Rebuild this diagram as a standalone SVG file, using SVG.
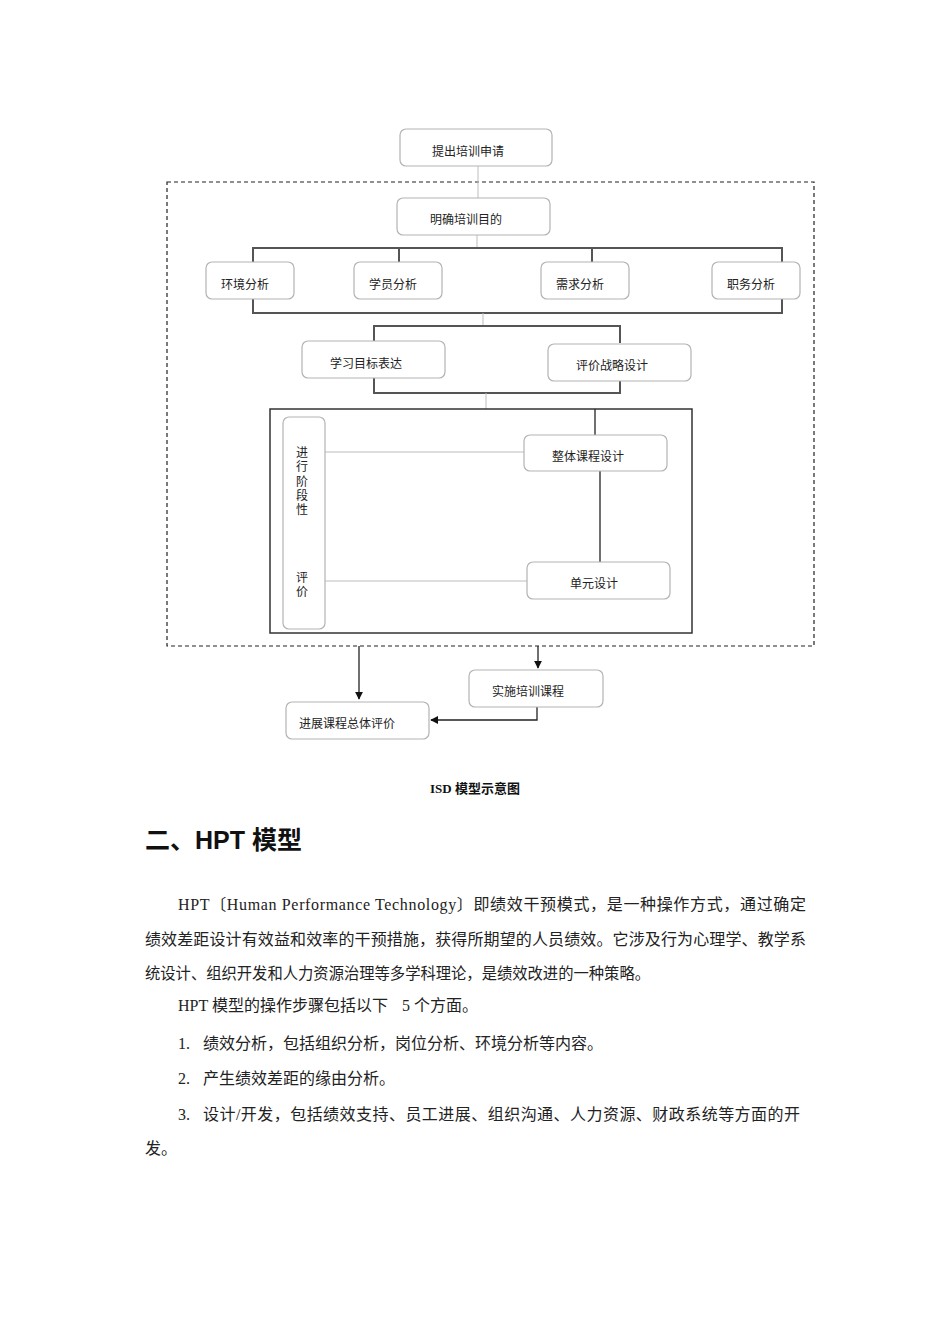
<svg xmlns="http://www.w3.org/2000/svg" width="950" height="1344" viewBox="0 0 950 1344">
<defs>
<marker id="arr" viewBox="0 0 10 10" refX="9" refY="5" markerWidth="8" markerHeight="8" markerUnits="userSpaceOnUse" orient="auto"><path d="M0,0 L10,5 L0,10 z" fill="#111"/></marker>
<style>
.box{fill:#fff;stroke:#b3b3b3;stroke-width:1.2}
.lbl{font-family:"Liberation Sans","Noto Sans CJK SC",sans-serif;font-size:12px;fill:#222}
.bar{stroke:#555;stroke-width:2;fill:none}
.thin{stroke:#bdbdbd;stroke-width:1;fill:none}
.blk{stroke:#222;stroke-width:1.3;fill:none}
.body{font-family:"Liberation Serif","Noto Sans CJK SC",serif;font-size:16px;fill:#222}
</style>
</defs>
<rect width="950" height="1344" fill="#fff"/>
<g id="connectors">
<rect x="167" y="182" width="647" height="464" fill="none" stroke="#222" stroke-width="1.2" stroke-dasharray="4,3"/>
<line class="thin" x1="478" y1="166" x2="478" y2="198"/>
<line class="thin" x1="477" y1="235" x2="477" y2="248"/>
<path class="bar" d="M253,262 V248 H782 V262 M399,248 V262 M592,248 V262"/>
<path class="bar" d="M253,299 V313 H782 V299"/>
<line class="thin" x1="483" y1="313" x2="483" y2="326"/>
<path class="bar" d="M374,341 V326 H620 V343"/>
<path class="bar" d="M374,378 V393 H620 V381"/>
<line class="thin" x1="486" y1="393" x2="486" y2="409"/>
<rect x="270" y="409" width="422" height="224" fill="none" stroke="#333" stroke-width="1.5"/>
<line class="blk" x1="595" y1="409" x2="595" y2="435"/>
<line class="blk" x1="600" y1="471" x2="600" y2="562"/>
<line class="thin" x1="325" y1="452" x2="524" y2="452"/>
<line class="thin" x1="325" y1="581" x2="527" y2="581"/>
<line class="blk" x1="359" y1="646" x2="359" y2="699" marker-end="url(#arr)"/>
<line class="blk" x1="538" y1="646" x2="538" y2="668" marker-end="url(#arr)"/>
<path class="blk" d="M537,707 V720 H431" marker-end="url(#arr)"/>
</g>
<g id="n1"><rect class="box" x="400" y="129" width="152" height="37" rx="6"/><text class="lbl" x="468" y="156" text-anchor="middle">提出培训申请</text></g>
<g id="n2"><rect class="box" x="397" y="198" width="153" height="37" rx="6"/><text class="lbl" x="466" y="224" text-anchor="middle">明确培训目的</text></g>
<g id="n3"><rect class="box" x="206" y="262" width="88" height="37" rx="6"/><text class="lbl" x="245" y="289" text-anchor="middle">环境分析</text></g>
<g id="n4"><rect class="box" x="354" y="262" width="88" height="37" rx="6"/><text class="lbl" x="393" y="289" text-anchor="middle">学员分析</text></g>
<g id="n5"><rect class="box" x="541" y="262" width="88" height="37" rx="6"/><text class="lbl" x="580" y="289" text-anchor="middle">需求分析</text></g>
<g id="n6"><rect class="box" x="712" y="262" width="88" height="37" rx="6"/><text class="lbl" x="751" y="289" text-anchor="middle">职务分析</text></g>
<g id="n7"><rect class="box" x="302" y="341" width="143" height="37" rx="6"/><text class="lbl" x="366" y="368" text-anchor="middle">学习目标表达</text></g>
<g id="n8"><rect class="box" x="548" y="344" width="143" height="37" rx="6"/><text class="lbl" x="612" y="370" text-anchor="middle">评价战略设计</text></g>
<g id="n9"><rect class="box" x="283" y="417" width="42" height="212" rx="6"/>
<text class="lbl" x="302" y="457" text-anchor="middle">进</text>
<text class="lbl" x="302" y="471" text-anchor="middle">行</text>
<text class="lbl" x="302" y="486" text-anchor="middle">阶</text>
<text class="lbl" x="302" y="500" text-anchor="middle">段</text>
<text class="lbl" x="302" y="514" text-anchor="middle">性</text>
<text class="lbl" x="302" y="582" text-anchor="middle">评</text>
<text class="lbl" x="302" y="596" text-anchor="middle">价</text></g>
<g id="n10"><rect class="box" x="524" y="435" width="143" height="36" rx="6"/><text class="lbl" x="588" y="461" text-anchor="middle">整体课程设计</text></g>
<g id="n11"><rect class="box" x="527" y="562" width="143" height="37" rx="6"/><text class="lbl" x="594" y="588" text-anchor="middle">单元设计</text></g>
<g id="n12"><rect class="box" x="469" y="670" width="134" height="37" rx="6"/><text class="lbl" x="528" y="696" text-anchor="middle">实施培训课程</text></g>
<g id="n13"><rect class="box" x="286" y="702" width="143" height="37" rx="6"/><text class="lbl" x="347" y="728" text-anchor="middle">进展课程总体评价</text></g>
<text x="475" y="793" text-anchor="middle" font-family="Liberation Serif,'Noto Sans CJK SC',serif" font-weight="bold" font-size="13" fill="#111">ISD 模型示意图</text>
<text x="145" y="849" font-family="Liberation Sans,'Noto Sans CJK SC',sans-serif" font-weight="bold" font-size="25" fill="#111">二、HPT 模型</text>
<text class="body" x="178" y="910" textLength="628" lengthAdjust="spacing">HPT〔Human Performance Technology〕即绩效干预模式，是一种操作方式，通过确定</text>
<text class="body" x="145" y="945" textLength="661" lengthAdjust="spacing">绩效差距设计有效益和效率的干预措施，获得所期望的人员绩效。它涉及行为心理学、教学系</text>
<text class="body" x="145" y="979" textLength="505" lengthAdjust="spacingAndGlyphs">统设计、组织开发和人力资源治理等多学科理论，是绩效改进的一种策略。</text>
<text class="body" y="1011"><tspan x="178">HPT 模型的操作步骤包括以下</tspan><tspan x="402">5 个方面。</tspan></text>
<text class="body" y="1049"><tspan x="178">1.</tspan><tspan x="203">绩效分析，包括组织分析，岗位分析、环境分析等内容。</tspan></text>
<text class="body" y="1084"><tspan x="178">2.</tspan><tspan x="203">产生绩效差距的缘由分析。</tspan></text>
<text class="body" y="1120"><tspan x="178">3.</tspan><tspan x="203" textLength="597" lengthAdjust="spacing">设计/开发，包括绩效支持、员工进展、组织沟通、人力资源、财政系统等方面的开</tspan></text>
<text class="body" x="145" y="1154">发。</text>
</svg>
